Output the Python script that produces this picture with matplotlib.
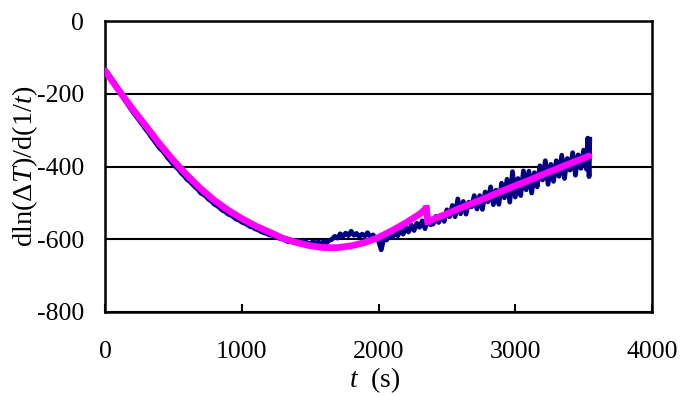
import matplotlib
matplotlib.use("Agg")
import matplotlib.pyplot as plt
import numpy as np

plt.rcParams["font.family"] = ["Liberation Serif", "DejaVu Serif"]
plt.rcParams["mathtext.fontset"] = "custom"
plt.rcParams["mathtext.rm"] = "Liberation Serif"
plt.rcParams["mathtext.it"] = "Liberation Serif:italic"
plt.rcParams["axes.unicode_minus"] = False

# measured data, sampled every 20 s (last few points denser)
t_meas = list(range(0, 3520, 20)) + [3520, 3530, 3540, 3545]
y_meas = [
    -133, -143, -154, -165, -177, -191, -203, -215, -226, -237,
    -248, -258, -268, -278, -288, -299, -308, -320, -329, -340,
    -350, -357, -366, -377, -385, -395, -402, -409, -419, -426,
    -436, -441, -449, -457, -463, -473, -477, -483, -491, -496,
    -504, -508, -514, -521, -524, -531, -534, -539, -545, -547,
    -553, -556, -560, -565, -567, -572, -574, -579, -582, -584,
    -588, -589, -593, -595, -598, -600, -603, -607, -602, -609,
    -603, -607, -611, -604, -610, -613, -606, -611, -607, -612,
    -606, -610, -603, -600, -592, -597, -585, -592, -583, -590,
    -578, -589, -584, -593, -586, -591, -582, -595, -588, -597,
    -605, -629, -597, -602, -588, -596, -580, -591, -575, -586,
    -568, -580, -561, -576, -556, -567, -549, -571, -545, -560,
    -558, -537, -554, -534, -551, -519, -538, -507, -538, -489,
    -530, -496, -531, -498, -511, -480, -517, -480, -518, -470,
    -497, -456, -505, -465, -504, -446, -486, -435, -498, -414,
    -484, -433, -480, -412, -464, -413, -473, -417, -456, -398,
    -437, -384, -449, -394, -441, -384, -427, -369, -433, -378,
    -410, -362, -424, -368, -405, -355, -407, -322, -428, -325,
]

# fitted curve, two segments (jump near 2350 s)
t_fit1 = [0, 100, 200, 300, 400, 500, 600, 700, 800, 900, 1000, 1100, 1200,
          1300, 1400, 1500, 1600, 1700, 1800, 1900, 2000, 2100, 2200, 2300, 2350]
y_fit1 = [-137, -190, -241, -289, -338, -383, -424, -461, -493, -520, -543, -563, -580,
          -597, -609, -618, -623, -623, -618, -609, -595, -576, -555, -531, -515]
t_fit2 = [2360, 2400, 2500, 2600, 2700, 2800, 2900, 3000, 3100, 3200, 3300, 3400, 3500, 3540]
y_fit2 = [-551, -545, -530, -514, -499, -484, -468, -453, -438, -422, -407, -392, -377, -371]

fig = plt.figure(figsize=(6.82, 3.96), dpi=100)
ax = fig.add_axes([105 / 682, 84 / 396, 547 / 682, 291 / 396])

ax.plot(t_meas, y_meas, color="#000080", lw=3.4, solid_joinstyle="round", zorder=3)
ax.plot(t_fit1, y_fit1, color="#FF00FF", lw=4.8, solid_capstyle="round", zorder=4)
ax.plot([t_fit1[-1], t_fit2[0]], [y_fit1[-1], y_fit2[0]], color="#FF00FF", lw=4.8, zorder=4)
ax.plot(t_fit2, y_fit2, color="#FF00FF", lw=4.8, solid_capstyle="round", zorder=4)

ax.set_xlim(0, 4000)
ax.set_ylim(-800, 0)
ax.set_xticks([0, 1000, 2000, 3000, 4000])
ax.set_yticks([-800, -600, -400, -200, 0])
ax.yaxis.grid(True, color="black", lw=1.5)
ax.set_axisbelow(True)
for s in ax.spines.values():
    s.set_linewidth(1.8)
    s.set_color("black")
ax.tick_params(axis="x", direction="in", length=6, width=1.5, pad=21, labelsize=18.5)
ax.tick_params(axis="y", length=0, pad=15, labelsize=18.5)

fig.text(25 / 682, 1 - 166 / 396, "dln(\u0394$T$)/d(1/$t$)", rotation=90,
         ha="center", va="center", fontsize=20.5)
fig.text(375 / 682, 1 - 380 / 396, "$t$  (s)", ha="center", va="center", fontsize=20)

fig.savefig("out.png", dpi=100)
